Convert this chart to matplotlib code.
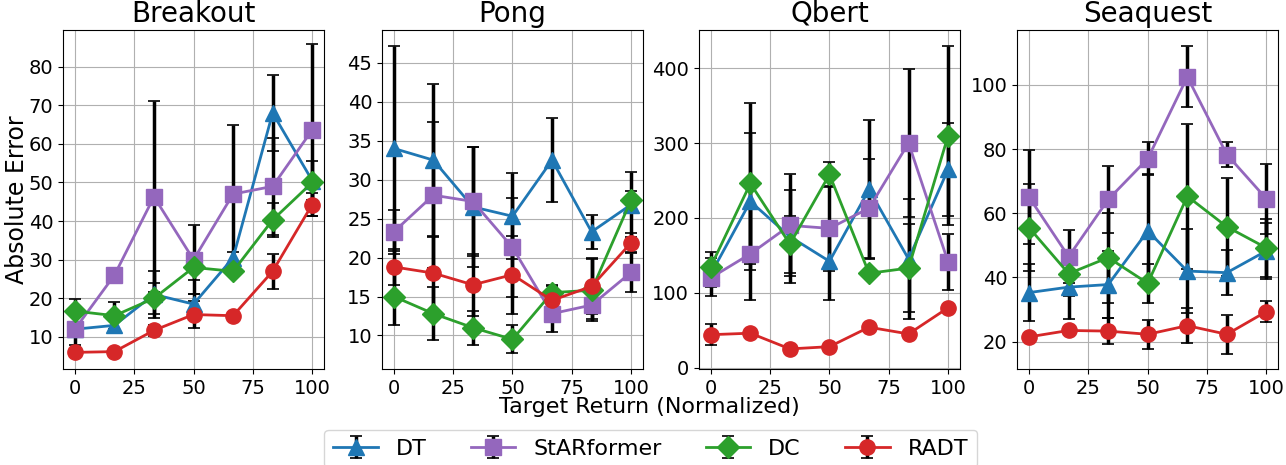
import matplotlib
matplotlib.use('Agg')
import matplotlib.pyplot as plt

# target returns (normalized)
x = [0, 16.67, 33.33, 50, 66.67, 83.33, 100]

games = ['Breakout', 'Pong', 'Qbert', 'Seaquest']
methods = ['DT', 'StARformer', 'DC', 'RADT']

# mean absolute error per game/method
breakout_mean = {
    'DT': [12, 13, 21, 18.5, 30.5, 68, 50.5],
    'StARformer': [12, 26, 46.3, 30, 47, 49, 63.6],
    'DC': [16.7, 15.5, 20, 28, 27, 40.3, 50],
    'RADT': [6, 6.2, 11.7, 15.8, 15.5, 27, 44.3],
}
breakout_err = {
    'DT': [4, 1, 6, 2.5, 1.5, 9.8, 5],
    'StARformer': [1, 1, 24.7, 9, 18, 12.6, 22.4],
    'DC': [3, 3.6, 4, 3.3, 1, 4.5, 1],
    'RADT': [0.5, 0.5, 1.5, 3.5, 0.5, 4.6, 3],
}
pong_mean = {
    'DT': [34, 32.5, 26.5, 25.3, 32.5, 23.3, 26.8],
    'StARformer': [23.3, 28, 27.2, 21.3, 12.8, 13.9, 18.1],
    'DC': [15, 12.8, 11, 9.5, 15.5, 15.8, 27.4],
    'RADT': [18.8, 18, 16.5, 17.8, 14.5, 16.3, 21.9],
}
pong_err = {
    'DT': [13.1, 9.8, 7.7, 5.5, 5.4, 2.2, 4.2],
    'StARformer': [2.8, 9.4, 7, 6.4, 2.3, 1.8, 2.5],
    'DC': [3.6, 3.4, 2.2, 1.8, 0.8, 4, 1.2],
    'RADT': [2.3, 4.8, 4, 5, 2, 3.6, 1.2],
}
qbert_mean = {
    'DT': [125, 222, 175, 142, 238, 145, 265],
    'StARformer': [120, 152, 190, 186, 213, 300, 141],
    'DC': [135, 246, 165, 258, 126, 133, 310],
    'RADT': [44, 46, 25, 28, 54, 45, 80],
}
qbert_err = {
    'DT': [29, 91, 62, 51, 93, 80, 62],
    'StARformer': [12, 62, 68, 57, 66, 99, 37],
    'DC': [12, 108, 38, 17, 5, 59, 120],
    'RADT': [14, 3, 3, 3, 3, 3, 3],
}
seaquest_mean = {
    'DT': [35.3, 37, 37.8, 54.5, 42, 41.5, 48.3],
    'StARformer': [65, 46.5, 64.3, 77, 102.5, 78.3, 64.5],
    'DC': [55.5, 41.2, 46.2, 38.2, 65.3, 55.8, 49.2],
    'RADT': [21.5, 23.5, 23.3, 22.3, 25, 22.3, 29.4],
}
seaquest_err = {
    'DT': [9, 10, 10.5, 17.8, 13, 7, 8.7],
    'StARformer': [14.7, 8.2, 10.5, 5.2, 9.5, 4, 11],
    'DC': [13.5, 7, 14, 6, 22.5, 15.2, 9],
    'RADT': [0.5, 1, 4, 4.6, 5.4, 6, 3.2],
}

means = [breakout_mean, pong_mean, qbert_mean, seaquest_mean]
errs = [breakout_err, pong_err, qbert_err, seaquest_err]
ylims = [(1.7, 89.5), (5.7, 49.2), (-1.8, 451), (11.5, 117.1)]
yticks = [range(10, 81, 10), range(10, 46, 5), range(0, 401, 100), range(20, 101, 20)]

colors = {'DT': '#1f77b4', 'StARformer': '#9467bd', 'DC': '#2ca02c', 'RADT': '#d62728'}
markers = {'DT': '^', 'StARformer': 's', 'DC': 'D', 'RADT': 'o'}

fig = plt.figure(figsize=(12.86, 4.65), dpi=100)
lefts = [0.049, 0.297, 0.5435, 0.791]

handles = []
for i, game in enumerate(games):
    ax = fig.add_axes([lefts[i], 0.2065, 0.203, 0.729])
    for m in methods:
        h = ax.errorbar(x, means[i][m], yerr=errs[i][m], color=colors[m],
                        marker=markers[m], markersize=11, linewidth=2,
                        ecolor='black', elinewidth=2.5, capsize=4, capthick=1.2,
                        label=m)
        if i == 0:
            handles.append(h)
    ax.set_title(game, fontsize=20)
    ax.set_xticks([0, 25, 50, 75, 100])
    ax.set_yticks(list(yticks[i]))
    ax.set_ylim(*ylims[i])
    ax.tick_params(labelsize=14)
    ax.grid(True)
    if i == 0:
        ax.set_ylabel('Absolute Error', fontsize=17, labelpad=0)

fig.text(0.505, 0.125, 'Target Return (Normalized)', ha='center', va='center', fontsize=16)
fig.legend(handles, methods, loc='upper center', bbox_to_anchor=(0.506, 0.0753),
           borderaxespad=0, ncol=4, fontsize=16, columnspacing=2.0)

fig.savefig('out.png', dpi=100)
